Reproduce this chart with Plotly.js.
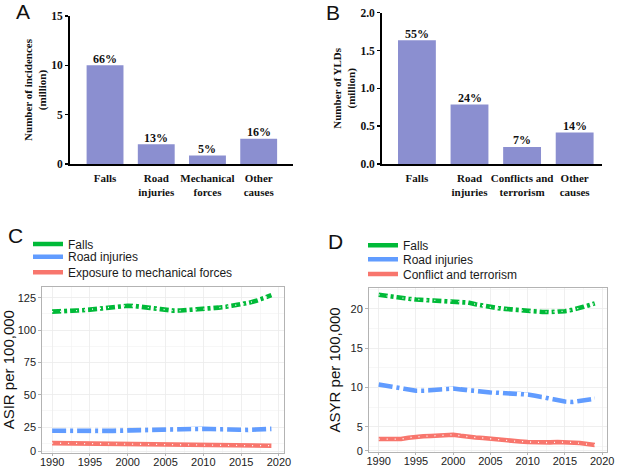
<!DOCTYPE html>
<html><head><meta charset="utf-8">
<script src="https://cdn.plot.ly/plotly-3.0.1.min.js"></script>
<style>html,body{margin:0;padding:0;background:#fff}#chart{width:618px;height:468px}</style>
</head><body><div id="chart"></div>
<script>
// ---- Panel A: incidences (million)
const incCategories = ['Falls', 'Road<br>injuries', 'Mechanical<br>forces', 'Other<br>causes'];
const incValues = [10.0, 2.0, 0.85, 2.55];
const incLabels = ['66%', '13%', '5%', '16%'];
// ---- Panel B: YLDs (million)
const yldCategories = ['Falls', 'Road<br>injuries', 'Conflicts and<br>terrorism', 'Other<br>causes'];
const yldValues = [1.635, 0.785, 0.225, 0.415];
const yldLabels = ['55%', '24%', '7%', '14%'];
// ---- Panels C & D: years
const years = [1990, 1991, 1992, 1993, 1994, 1995, 1996, 1997, 1998, 1999,
               2000, 2001, 2002, 2003, 2004, 2005, 2006, 2007, 2008, 2009,
               2010, 2011, 2012, 2013, 2014, 2015, 2016, 2017, 2018, 2019];
// Panel C: ASIR per 100,000
const asirFalls = [114.2, 114.3, 114.5, 114.9, 115.3, 115.8, 116.3, 117.0, 117.8, 118.5,
                   118.8, 118.5, 117.8, 116.8, 115.9, 115.3, 115.0, 115.1, 115.4, 115.7,
                   116.0, 116.6, 117.3, 118.0, 118.8, 119.8, 121.0, 122.6, 124.6, 127.0];
const asirRoad = [22.2, 22.1, 22.0, 21.8, 21.7, 21.6, 21.7, 21.9, 22.1, 22.3,
                  22.5, 22.6, 22.7, 22.8, 22.9, 23.0, 23.2, 23.4, 23.6, 23.7,
                  23.7, 23.5, 23.2, 22.9, 22.7, 22.6, 22.8, 23.1, 23.4, 23.6];
const asirMech = [12.6, 12.5, 12.4, 12.3, 12.2, 12.2, 12.1, 12.1, 12.0, 12.0,
                  11.9, 11.8, 11.7, 11.6, 11.5, 11.4, 11.3, 11.2, 11.1, 11.0,
                  11.0, 10.9, 10.8, 10.8, 10.7, 10.6, 10.6, 10.6, 10.6, 10.6];
// Panel D: ASYR per 100,000
const asyrFalls = [21.8, 21.65, 21.5, 21.4, 21.3, 21.2, 21.15, 21.1, 21.1, 21.05,
                   21.0, 20.9, 20.8, 20.6, 20.4, 20.2, 20.1, 20.0, 19.9, 19.8,
                   19.7, 19.65, 19.6, 19.6, 19.65, 19.7, 19.9, 20.1, 20.4, 20.7];
const asyrRoad = [10.38, 10.2, 10.0, 9.79, 9.68, 9.58, 9.58, 9.62, 9.7, 9.8,
                  9.87, 9.75, 9.62, 9.53, 9.45, 9.36, 9.32, 9.28, 9.24, 9.18,
                  9.11, 8.95, 8.77, 8.55, 8.31, 8.2, 8.14, 8.25, 8.39, 8.56];
const asyrConflict = [3.43, 3.43, 3.43, 3.43, 3.6, 3.73, 3.78, 3.82, 3.86, 3.92,
                      3.98, 3.84, 3.69, 3.62, 3.56, 3.45, 3.31, 3.25, 3.18, 3.12,
                      3.05, 3.0, 2.97, 3.0, 3.05, 3.03, 3.0, 2.92, 2.8, 2.67];

const GREEN = '#00BA38', BLUE = '#619CFF', RED = '#F8766D', BARC = 'rgb(139,143,208)';
const serif = 'Liberation Serif, Times New Roman, serif';
const sans = 'Liberation Sans, Arial, sans-serif';

// dash patterns: coloured line drawn solid, white segments drawn into the gaps
const GAP_FALLS = '0px,9px,3px,3px,3px,0px';   // dash 9, dot 3
const GAP_ROAD = '0px,14px,4px,3px,4px,0px';   // long dash 14, dot 3
const DOTS = '1px,7px';

function lineSet(xa, ya, yv, name, color, legendId, gap, dots) {
  const out = [{type: 'scatter', mode: 'lines', x: years, y: yv, name: name, legend: legendId,
    line: {color: color, width: 4.6}, xaxis: xa, yaxis: ya, hoverinfo: 'skip'}];
  if (gap) out.push({type: 'scatter', mode: 'lines', x: years, y: yv, showlegend: false,
    line: {color: '#fff', width: 6.5, dash: gap}, xaxis: xa, yaxis: ya, hoverinfo: 'skip'});
  if (dots) out.push({type: 'scatter', mode: 'lines', x: years, y: yv, showlegend: false,
    line: {color: '#fff', width: 1.3, dash: DOTS}, xaxis: xa, yaxis: ya, hoverinfo: 'skip'});
  return out;
}

const traces = [
  {type: 'bar', x: incCategories, y: incValues, width: 0.72, marker: {color: BARC},
   xaxis: 'x', yaxis: 'y', showlegend: false, hoverinfo: 'skip'},
  {type: 'bar', x: yldCategories, y: yldValues, width: 0.72, marker: {color: BARC},
   xaxis: 'x2', yaxis: 'y2', showlegend: false, hoverinfo: 'skip'},
  ...lineSet('x3', 'y3', asirFalls, 'Falls', GREEN, 'legend', GAP_FALLS, true),
  ...lineSet('x3', 'y3', asirRoad, 'Road injuries', BLUE, 'legend2', GAP_ROAD, false),
  ...lineSet('x3', 'y3', asirMech, 'Exposure to mechanical forces', RED, 'legend3', null, true),
  ...lineSet('x4', 'y4', asyrFalls, 'Falls', GREEN, 'legend4', GAP_FALLS, true),
  ...lineSet('x4', 'y4', asyrRoad, 'Road injuries', BLUE, 'legend5', GAP_ROAD, false),
  ...lineSet('x4', 'y4', asyrConflict, 'Conflict and terrorism', RED, 'legend6', null, true)
];

const W = 618, H = 468;
const px = v => v / W, py = v => 1 - v / H;

const barX = (dom, rng, anchor) => ({
  domain: dom, range: rng, anchor: anchor, type: 'category', tickangle: 0,
  showline: true, linecolor: '#000', linewidth: 1.6, ticks: '', showgrid: false, zeroline: false,
  tickfont: {family: serif, size: 11, color: '#111', weight: 'bold'}, ticklabelstandoff: 3
});
const barY = (dom, rng, dt, fmt, anchor, title) => ({
  domain: dom, range: rng, anchor: anchor, dtick: dt, tickformat: fmt,
  showline: true, linecolor: '#000', linewidth: 1.6, ticks: 'outside', ticklen: 3, tickwidth: 1.4, tickcolor: '#000',
  showgrid: false, zeroline: false,
  tickfont: {family: serif, size: 11.5, color: '#111', weight: 'bold'},
  title: {text: title, font: {family: serif, size: 11, color: '#111', weight: 'bold'}, standoff: 2}
});
const lineX = (dom, anchor) => ({
  domain: dom, range: [1988.7, 2020.6], anchor: anchor, tickmode: 'linear', tick0: 1990, dtick: 5,
  showline: true, mirror: true, linecolor: '#b3b3b3', linewidth: 1, zeroline: false,
  showgrid: true, gridcolor: '#ebebeb', gridwidth: 0.8,
  minor: {tickmode: 'linear', tick0: 1992.5, dtick: 5, showgrid: true, gridcolor: '#f2f2f2', gridwidth: 0.6},
  ticks: 'outside', ticklen: 2, tickcolor: '#b3b3b3', ticklabelstandoff: -3,
  tickfont: {family: sans, size: 11, color: '#222'}
});
const lineY = (dom, rng, tv, tt, minor0, minorDt, anchor, title) => ({
  domain: dom, range: rng, anchor: anchor, tickmode: 'array', tickvals: tv, ticktext: tt,
  showline: true, mirror: true, linecolor: '#b3b3b3', linewidth: 1, zeroline: false,
  showgrid: true, gridcolor: '#ebebeb', gridwidth: 0.8,
  minor: {tickmode: 'linear', tick0: minor0, dtick: minorDt, showgrid: true, gridcolor: '#f2f2f2', gridwidth: 0.6},
  ticks: 'outside', ticklen: 3, tickcolor: '#b3b3b3',
  tickfont: {family: sans, size: 11, color: '#222'},
  title: {text: title, font: {family: sans, size: 15, color: '#111'}, standoff: 6}
});
const leg = (xp, yp) => ({x: px(xp), y: py(yp), xanchor: 'left', yanchor: 'middle', bgcolor: 'rgba(0,0,0,0)',
  font: {family: sans, size: 12, color: '#1a1a1a'}, itemwidth: 30, tracegroupgap: 0});

// percentage labels placed on top of each bar through the data scales
const pctNotes = (cats, vals, labs, xa, ya) => cats.map((c, i) => ({
  x: c, y: vals[i], xref: xa, yref: ya, text: labs[i], showarrow: false,
  xanchor: 'center', yanchor: 'bottom', yshift: -2.5,
  font: {family: serif, size: 12, color: '#111', weight: 'bold'}
}));
const letter = (t, xp, yp) => ({text: t, x: px(xp), y: py(yp), xref: 'paper', yref: 'paper', showarrow: false,
  xanchor: 'center', yanchor: 'middle', font: {family: sans, size: 21, color: '#111'}});

const layout = {
  width: W, height: H, margin: {l: 0, r: 0, t: 0, b: 0},
  paper_bgcolor: '#fff', plot_bgcolor: '#fff',
  xaxis: barX([px(69.7), px(293)], [-0.69, 3.67], 'y'),
  yaxis: barY([py(164), py(16)], [0, 15], 5, '', 'x', 'Number of incidences<br>(million)'),
  xaxis2: barX([px(381.7), px(602)], [-0.67, 3.52], 'y2'),
  yaxis2: barY([py(164), py(12.7)], [0, 2.0], 0.5, '.1f', 'x2', 'Number of YLDs<br>(million)'),
  xaxis3: lineX([px(42.3), px(283.5)], 'y3'),
  yaxis3: lineY([py(452.7), py(286.7)], [5.2, 133.5], [6.4, 25, 50, 75, 100, 125], ['0', '25', '50', '75', '100', '125'], 12.5, 25, 'x3', 'ASIR per 100,000'),
  xaxis4: lineX([px(369), px(606.7)], 'y4'),
  yaxis4: lineY([py(452), py(287.7)], [1.78, 22.7], [1.95, 5, 10, 15, 20], ['0', '5', '10', '15', '20'], 2.5, 5, 'x4', 'ASYR per 100,000'),
  legend: leg(28, 244), legend2: leg(28, 256.7), legend3: leg(28, 272.3),
  legend4: leg(363, 245.3), legend5: leg(363, 259.3), legend6: leg(363, 274),
  annotations: [
    ...pctNotes(incCategories, incValues, incLabels, 'x', 'y'),
    ...pctNotes(yldCategories, yldValues, yldLabels, 'x2', 'y2'),
    letter('A', 23, 11.5), letter('B', 333, 12), letter('C', 15.5, 235), letter('D', 335.5, 241.5)
  ]
};

Plotly.newPlot('chart', traces, layout, {staticPlot: true, displayModeBar: false});
</script></body></html>
